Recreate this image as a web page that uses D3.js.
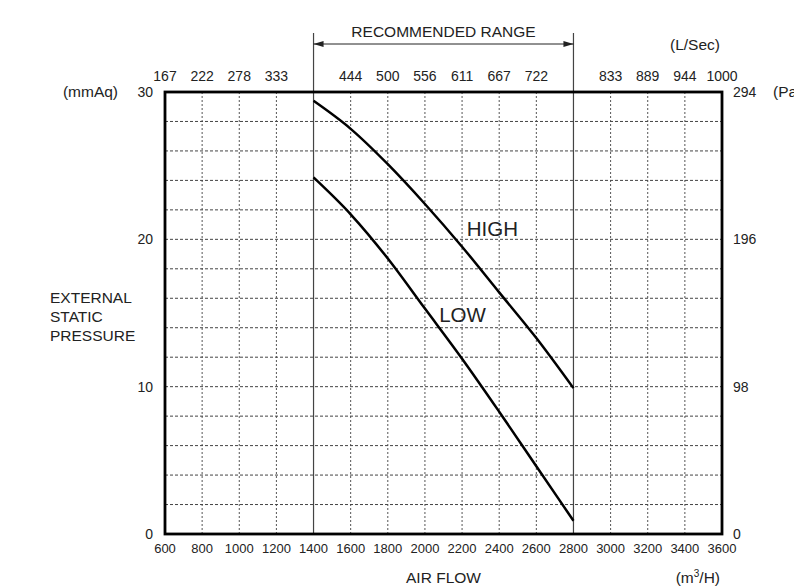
<!DOCTYPE html>
<html>
<head>
<meta charset="utf-8">
<script src="https://cdn.jsdelivr.net/npm/d3@7"></script>
<style>
  body { margin: 0; background: #fff; }
  svg text { font-family: "Liberation Sans", Arial, sans-serif; fill: #222; }
</style>
</head>
<body>
<svg class="chart" width="794" height="586"></svg>
<script>
// air flow (m3/H) on x, external static pressure (mmAq) on y
var flowTicks = [600, 800, 1000, 1200, 1400, 1600, 1800, 2000, 2200, 2400, 2600, 2800, 3000, 3200, 3400, 3600];
var lsecFlows = [600, 800, 1000, 1200, 1600, 1800, 2000, 2200, 2400, 2600, 3000, 3200, 3400, 3600];
var lsecLabels = ["167", "222", "278", "333", "444", "500", "556", "611", "667", "722", "833", "889", "944", "1000"];
var mmTicks = [0, 10, 20, 30];
var paLabels = ["0", "98", "196", "294"];
var rangeLimits = [1400, 2800];

var curveFlow = [1400, 1600, 1800, 2000, 2200, 2400, 2600, 2800];
var highVals = [29.4, 27.5, 25.1, 22.4, 19.5, 16.4, 13.3, 9.9];
var lowVals  = [24.2, 21.7, 18.7, 15.3, 11.9, 8.3, 4.6, 0.9];

var margin = {top: 92, right: 72, bottom: 52, left: 165};
var width = 794 - margin.left - margin.right;
var height = 586 - margin.top - margin.bottom;

var x = d3.scaleLinear().domain([600, 3600]).range([0, width]);
var y = d3.scaleLinear().domain([0, 30]).range([height, 0]);

var chart = d3.select('.chart');
var main = chart.append('g')
    .attr('transform', 'translate(' + margin.left + ',' + margin.top + ')');

// dashed grid
main.selectAll('.vgrid')
    .data(flowTicks.filter(function(d) { return d > 600 && d < 3600 && rangeLimits.indexOf(d) < 0; }))
    .enter().append('line')
    .attr('x1', function(d) { return x(d); })
    .attr('x2', function(d) { return x(d); })
    .attr('y1', 0).attr('y2', height)
    .style('stroke', '#555').style('stroke-width', 1)
    .style('stroke-dasharray', '2,2');

main.selectAll('.hgrid')
    .data(d3.range(2, 30, 2))
    .enter().append('line')
    .attr('x1', 0).attr('x2', width)
    .attr('y1', function(d) { return y(d); })
    .attr('y2', function(d) { return y(d); })
    .style('stroke', '#444').style('stroke-width', 1)
    .style('stroke-dasharray', '3,2');

// recommended range lines
main.selectAll('.range')
    .data(rangeLimits)
    .enter().append('line')
    .attr('x1', function(d) { return x(d); })
    .attr('x2', function(d) { return x(d); })
    .attr('y1', -59).attr('y2', height)
    .style('stroke', '#444').style('stroke-width', 1.2);

var defs = chart.append('defs');
defs.append('marker')
    .attr('id', 'arr').attr('viewBox', '0 0 10 6')
    .attr('refX', 10).attr('refY', 3)
    .attr('markerWidth', 11).attr('markerHeight', 6)
    .attr('markerUnits', 'userSpaceOnUse')
    .attr('orient', 'auto-start-reverse')
    .append('path').attr('d', 'M0,0L10,3L0,6Z').style('fill', '#222');

main.append('line')
    .attr('x1', x(rangeLimits[0])).attr('x2', x(rangeLimits[1]))
    .attr('y1', -48).attr('y2', -48)
    .style('stroke', '#222').style('stroke-width', 1)
    .attr('marker-start', 'url(#arr)')
    .attr('marker-end', 'url(#arr)');

main.append('text')
    .attr('x', (x(rangeLimits[0]) + x(rangeLimits[1])) / 2)
    .attr('y', -55)
    .attr('text-anchor', 'middle')
    .attr('font-size', '15.5px')
    .text('RECOMMENDED RANGE');

// curves
var line = d3.line()
    .x(function(d) { return x(d[0]); })
    .y(function(d) { return y(d[1]); })
    .curve(d3.curveMonotoneX);

[highVals, lowVals].forEach(function(vals) {
    main.append('path')
        .datum(curveFlow.map(function(f, i) { return [f, vals[i]]; }))
        .attr('d', line)
        .style('fill', 'none')
        .style('stroke', '#000')
        .style('stroke-width', 2.5);
});

main.append('text').attr('x', x(2225)).attr('y', y(20.2))
    .attr('font-size', '20.5px').text('HIGH');
main.append('text').attr('x', x(2077)).attr('y', y(14.4))
    .attr('font-size', '20.5px').text('LOW');

// frame
main.append('rect')
    .attr('width', width).attr('height', height)
    .style('fill', 'none').style('stroke', '#000').style('stroke-width', 2.8);

// bottom axis (m3/H)
main.selectAll('.xlab')
    .data(flowTicks)
    .enter().append('text')
    .attr('x', function(d) { return x(d); })
    .attr('y', height + 19)
    .attr('text-anchor', 'middle')
    .attr('font-size', '13px')
    .text(function(d) { return d; });

// top axis (L/Sec)
main.selectAll('.toplab')
    .data(lsecFlows)
    .enter().append('text')
    .attr('x', function(d) { return x(d); })
    .attr('y', -11)
    .attr('text-anchor', 'middle')
    .attr('font-size', '14px')
    .text(function(d, i) { return lsecLabels[i]; });

// left axis (mmAq)
main.selectAll('.ylab')
    .data(mmTicks)
    .enter().append('text')
    .attr('x', -12)
    .attr('y', function(d) { return y(d) + 5; })
    .attr('text-anchor', 'end')
    .attr('font-size', '14px')
    .text(function(d) { return d; });

// right axis (Pa)
main.selectAll('.palab')
    .data(mmTicks)
    .enter().append('text')
    .attr('x', width + 11)
    .attr('y', function(d) { return y(d) + 5; })
    .attr('font-size', '14px')
    .text(function(d, i) { return paLabels[i]; });

main.append('text').attr('x', width + 51).attr('y', 5)
    .attr('font-size', '15.5px').text('(Pa)');
main.append('text').attr('x', -47).attr('y', 5)
    .attr('text-anchor', 'end').attr('font-size', '15.5px').text('(mmAq)');
main.append('text').attr('x', width - 2).attr('y', -42)
    .attr('text-anchor', 'end').attr('font-size', '15.5px').text('(L/Sec)');

// axis titles
var ylab = main.append('text').attr('x', -115).attr('font-size', '15.5px');
['EXTERNAL', 'STATIC', 'PRESSURE'].forEach(function(t, i) {
    ylab.append('tspan').attr('x', -115).attr('y', y(15.7) + i * 19).text(t);
});

main.append('text')
    .attr('x', x(2100)).attr('y', height + 49)
    .attr('text-anchor', 'middle').attr('font-size', '15.5px')
    .text('AIR FLOW');

var unit = main.append('text')
    .attr('x', width - 2).attr('y', height + 49)
    .attr('text-anchor', 'end').attr('font-size', '15.5px');
unit.append('tspan').text('(m');
unit.append('tspan').attr('dy', -6).attr('font-size', '10px').text('3');
unit.append('tspan').attr('dy', 6).text('/H)');
</script>
</body>
</html>
